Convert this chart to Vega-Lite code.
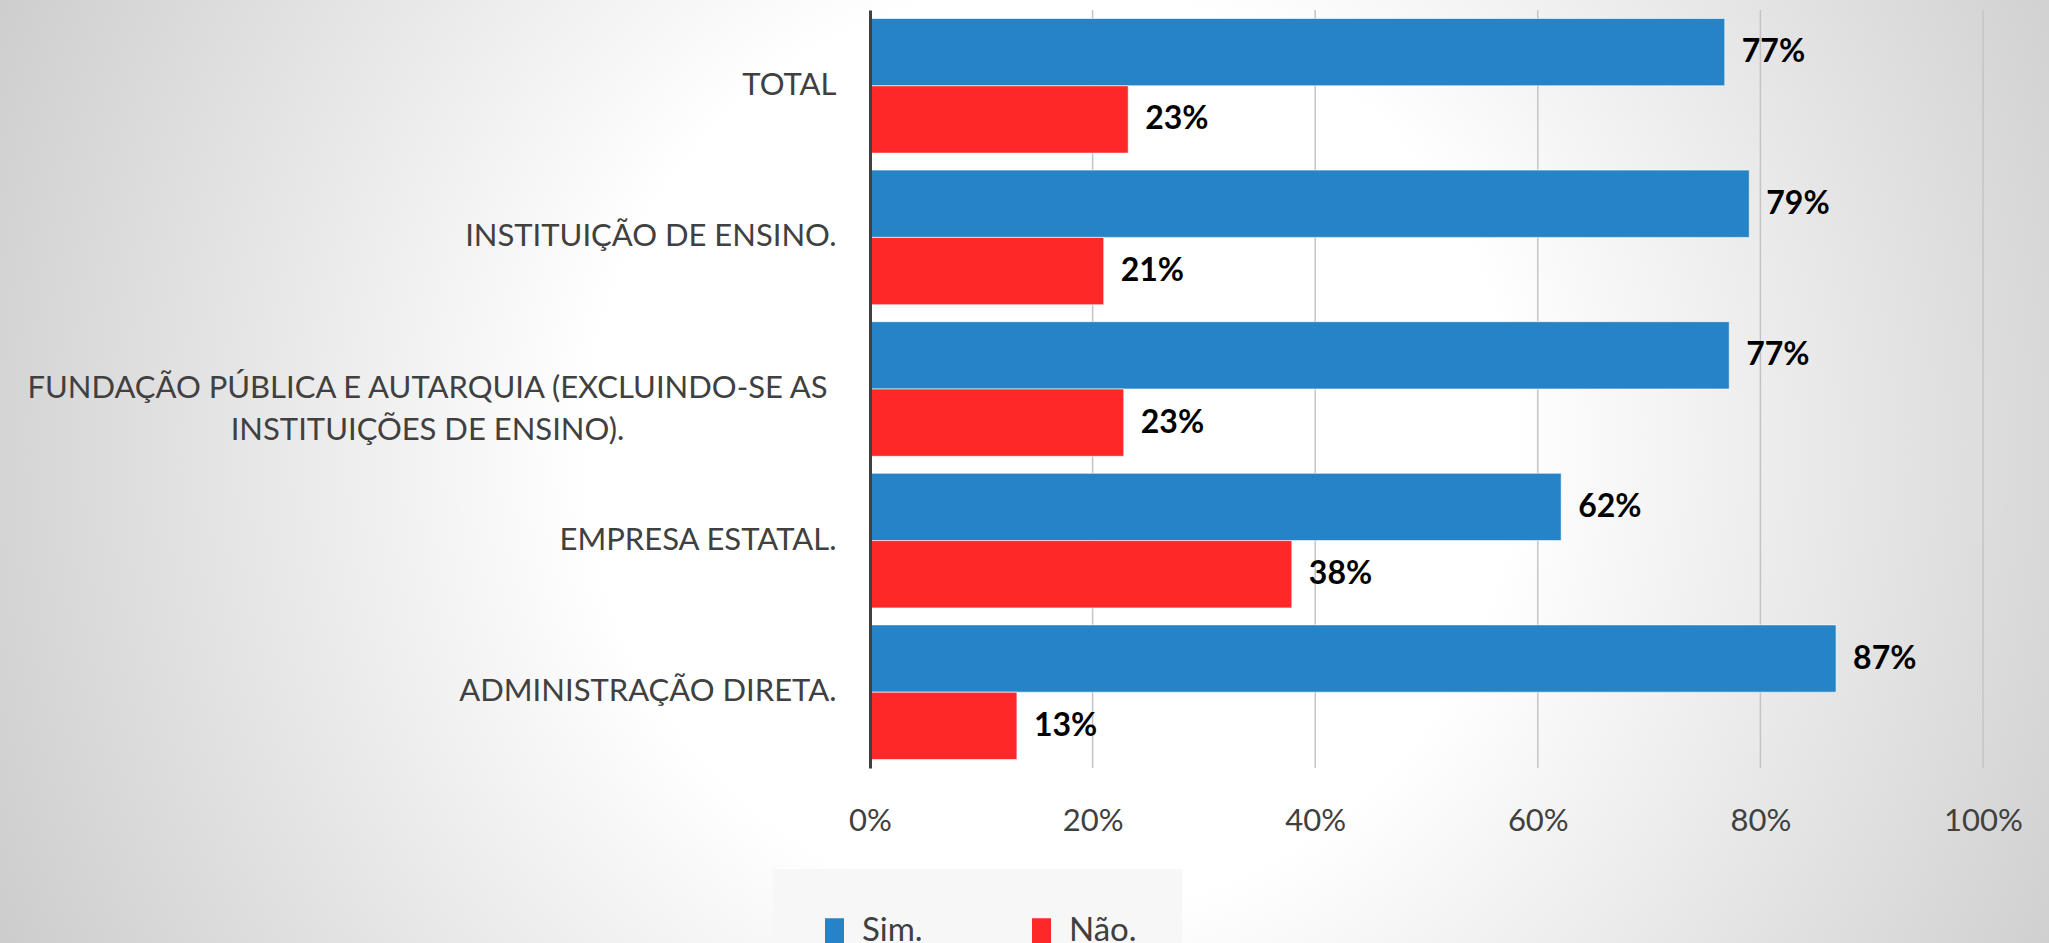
{
  "$schema": "https://vega.github.io/schema/vega-lite/v6.json",
  "width": 1113,
  "height": 758,
  "autosize": {"type": "none"},
  "padding": {"left": 870, "top": 10, "right": 66, "bottom": 175},
  "background": "#ffffff",
  "config": {"view": {"stroke": null}},
  "datasets": {
    "bars": [
      {"cat": "TOTAL", "s": "Sim.", "value": 0.768},
      {"cat": "TOTAL", "s": "Não.", "value": 0.232},
      {"cat": "INSTITUIÇÃO DE ENSINO.", "s": "Sim.", "value": 0.79},
      {"cat": "INSTITUIÇÃO DE ENSINO.", "s": "Não.", "value": 0.21},
      {"cat": "FUNDAÇÃO PÚBLICA E AUTARQUIA (EXCLUINDO-SE AS INSTITUIÇÕES DE ENSINO).", "s": "Sim.", "value": 0.772},
      {"cat": "FUNDAÇÃO PÚBLICA E AUTARQUIA (EXCLUINDO-SE AS INSTITUIÇÕES DE ENSINO).", "s": "Não.", "value": 0.228},
      {"cat": "EMPRESA ESTATAL.", "s": "Sim.", "value": 0.621},
      {"cat": "EMPRESA ESTATAL.", "s": "Não.", "value": 0.379},
      {"cat": "ADMINISTRAÇÃO DIRETA.", "s": "Sim.", "value": 0.868},
      {"cat": "ADMINISTRAÇÃO DIRETA.", "s": "Não.", "value": 0.132}
    ],
    "grid": [{"v": 0.2}, {"v": 0.4}, {"v": 0.6}, {"v": 0.8}, {"v": 1.0}]
  },
  "layer": [
    {
      "data": {"values": [{}]},
      "mark": {
        "type": "rect",
        "fill": {
          "gradient": "radial",
          "x1": 0.512, "y1": 0.524, "r1": 0,
          "x2": 0.512, "y2": 0.524, "r2": 0.55,
          "stops": [
            {"offset": 0, "color": "#ffffff"},
            {"offset": 0.4, "color": "#ffffff"},
            {"offset": 1, "color": "#cdcdcd"}
          ]
        }
      },
      "encoding": {
        "x": {"datum": -0.8, "type": "quantitative", "scale": {"domain": [0, 1], "nice": false},
              "axis": {"title": null, "format": ".0%", "values": [0, 0.2, 0.4, 0.6, 0.8, 1], "grid": false, "ticks": false, "domain": false, "labelFlush": false, "labelFont": "Lato", "labelFontSize": 31, "labelColor": "#404040", "labelPadding": 53, "labelBaseline": "middle", "zindex": 1}},
        "x2": {"datum": 1.08},
        "y": {"datum": 1.871, "type": "quantitative", "scale": {"domain": [0, 1], "nice": false, "zero": false}, "axis": null},
        "y2": {"datum": -0.9}
      }
    },
    {
      "data": {"name": "grid"},
      "mark": {"type": "rule", "color": "#c4c4c4", "strokeWidth": 1.5},
      "encoding": {
        "x": {"field": "v", "type": "quantitative", "scale": {"domain": [0, 1], "nice": false},
              "axis": {"title": null, "format": ".0%", "values": [0, 0.2, 0.4, 0.6, 0.8, 1], "grid": false, "ticks": false, "domain": false, "labelFlush": false, "labelFont": "Lato", "labelFontSize": 31, "labelColor": "#404040", "labelPadding": 53, "labelBaseline": "middle", "zindex": 1}}
      }
    },
    {
      "data": {"name": "bars"},
      "encoding": {
        "y": {"field": "cat", "type": "nominal", "sort": null,
              "scale": {"paddingInner": 0.112, "paddingOuter": 0.056},
              "axis": {
                "title": null, "ticks": false, "grid": false, "domain": true,
                "domainColor": "#404040", "domainWidth": 3, "zindex": 1,
                "labelFont": "Lato", "labelFontSize": 31, "labelColor": "#404040",
                "labelLimit": 2000, "labelLineHeight": 42, "labelBaseline": "middle",
                "labelExpr": "length(datum.value) > 40 ? ['FUNDAÇÃO PÚBLICA E AUTARQUIA (EXCLUINDO-SE AS', 'INSTITUIÇÕES DE ENSINO).'] : datum.label",
                "labelAlign": {"condition": {"test": "length(datum.value) > 40", "value": "center"}, "value": "right"},
                "labelPadding": {"condition": {"test": "length(datum.value) > 40", "value": 443}, "value": 34}
              }},
        "yOffset": {"field": "s", "type": "nominal", "sort": ["Sim.", "Não."], "scale": {"paddingInner": 0, "paddingOuter": 0}},
        "x": {"field": "value", "type": "quantitative", "scale": {"domain": [0, 1], "nice": false},
              "axis": {"title": null, "format": ".0%", "values": [0, 0.2, 0.4, 0.6, 0.8, 1], "grid": false, "ticks": false, "domain": false, "labelFlush": false, "labelFont": "Lato", "labelFontSize": 31, "labelColor": "#404040", "labelPadding": 53, "labelBaseline": "middle", "zindex": 1}}
      },
      "layer": [
        {
          "mark": {"type": "bar", "stroke": "#ffffff", "strokeOpacity": 0.6, "strokeWidth": 1},
          "encoding": {
            "color": {"field": "s", "type": "nominal",
                      "scale": {"domain": ["Sim.", "Não."], "range": ["#2683c6", "#ff2828"]},
                      "legend": {
                        "orient": "none", "legendX": -97, "legendY": 859, "direction": "horizontal",
                        "title": null, "fillColor": "#f7f7f7", "padding": 45, "columnPadding": 102,
                        "symbolType": "M-0.76,-1H0.76V1H-0.76Z", "symbolSize": 625, "symbolStrokeWidth": 0,
                        "labelFont": "Lato", "labelFontSize": 33, "labelColor": "#404040", "labelOffset": 11
                      }}
          }
        },
        {
          "mark": {"type": "text", "align": "left", "baseline": "middle", "dx": 17, "font": "Lato", "fontSize": 32, "fontWeight": "bold", "color": "#000000"},
          "encoding": {
            "text": {"field": "value", "type": "quantitative", "format": ".0%"}
          }
        }
      ]
    }
  ],
  "resolve": {"scale": {"y": "independent"}}
}
